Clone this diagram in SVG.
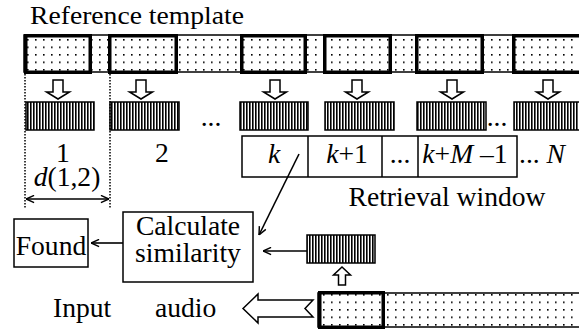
<svg xmlns="http://www.w3.org/2000/svg" width="579" height="335" viewBox="0 0 579 335">
  <style>
    text { font-family: "Liberation Serif", "Times New Roman", serif; font-size: 27.6px; fill: #000; }
    .title { font-size: 26px; }
    .it { font-style: italic; }
    .mid { text-anchor: middle; }
    .thin { fill: none; stroke: #000; stroke-width: 1.5; }
    .thick { fill: none; stroke: #000; stroke-width: 3.5; }
    .strip { fill: url(#dots); stroke: #000; stroke-width: 1.5; }
    .bar { fill: url(#stripes); stroke: #000; stroke-width: 1.5; }
    .box { fill: #fff; stroke: #000; stroke-width: 1.5; }
    .hollow { fill: #fff; stroke: #000; stroke-width: 1.5; stroke-linejoin: miter; }
    .line { fill: none; stroke: #000; stroke-width: 1.6; }
    .dotted { fill: none; stroke: #000; stroke-width: 1.5; stroke-dasharray: 1.5 1.5; }
  </style>
  <defs>
    <pattern id="dots" width="8" height="7.5" patternUnits="userSpaceOnUse" x="27" y="39">
      <rect width="8" height="7.5" fill="#fff"/>
      <rect x="0" y="0" width="1.6" height="1.6" fill="#000"/>
    </pattern>
    <pattern id="stripes" width="3" height="10" patternUnits="userSpaceOnUse" x="27">
      <rect width="3" height="10" fill="#fff"/>
      <rect width="1.6" height="10" fill="#000"/>
    </pattern>
    <marker id="head" viewBox="0 0 10 10" refX="10" refY="5" markerWidth="9" markerHeight="9" markerUnits="userSpaceOnUse" orient="auto-start-reverse">
      <path d="M1,1 L10,5 L1,9" fill="none" stroke="#000" stroke-width="1.6"/>
    </marker>
  </defs>

  <!-- reference template strip -->
  <g id="template">
    <text class="title" x="30" y="23.5" textLength="214" lengthAdjust="spacingAndGlyphs">Reference template</text>
    <rect class="strip" x="24" y="35" width="600" height="37"/>
    <rect class="thick" x="25.75" y="35.75" width="64.5" height="36.5"/>
    <rect class="thick" x="109.75" y="35.75" width="66.5" height="36.5"/>
    <rect class="thick" x="241.75" y="35.75" width="63.5" height="36.5"/>
    <rect class="thick" x="324.75" y="35.75" width="65.5" height="36.5"/>
    <rect class="thick" x="416.75" y="35.75" width="65.5" height="36.5"/>
    <rect class="thick" x="513.75" y="35.75" width="90" height="36.5"/>
  </g>

  <!-- feature vectors extracted from each template segment -->
  <g id="features">
    <rect class="bar" x="26" y="102" width="68" height="28"/>
    <rect class="bar" x="110" y="102" width="69" height="28"/>
    <rect class="bar" x="240" y="102" width="68" height="28"/>
    <rect class="bar" x="325" y="102" width="69" height="28"/>
    <rect class="bar" x="417" y="102" width="69" height="28"/>
    <rect class="bar" x="514" y="102" width="90" height="28"/>
    <text x="211" y="126" class="mid">...</text>
    <text x="497" y="126" class="mid">...</text>
    <text x="63" y="162" class="mid">1</text>
    <text x="162" y="162" class="mid">2</text>
    <text x="67" y="186" class="mid"><tspan class="it">d</tspan>(1,2)</text>
  </g>

  <!-- retrieval window -->
  <g id="window">
    <rect class="thin" x="242" y="136" width="275" height="41"/>
    <line class="thin" x1="308" y1="136" x2="308" y2="177"/>
    <line class="thin" x1="382" y1="136" x2="382" y2="177"/>
    <line class="thin" x1="418" y1="136" x2="418" y2="177"/>
    <text x="274" y="163" class="mid it">k</text>
    <text x="347" y="163" class="mid"><tspan class="it">k</tspan>+1</text>
    <text x="400" y="163" class="mid">...</text>
    <text x="465" y="163" class="mid"><tspan class="it">k</tspan>+<tspan class="it">M</tspan> –1</text>
    <text x="519" y="163">... <tspan class="it">N</tspan></text>
    <text x="447" y="206" class="mid">Retrieval window</text>
  </g>

  <g id="calc">
    <rect class="box" x="123" y="212" width="130" height="70"/>
    <text x="188" y="235" class="mid">Calculate</text>
    <text x="188" y="262" class="mid">similarity</text>
  </g>

  <g id="found">
    <rect class="box" x="14" y="219" width="74" height="48"/>
    <text x="51" y="255" class="mid">Found</text>
  </g>

  <!-- input audio stream -->
  <g id="input">
    <text x="53" y="317">Input</text>
    <text x="155" y="317">audio</text>
    <rect class="strip" x="318" y="293" width="300" height="34"/>
    <rect class="thick" x="319.75" y="292.75" width="63.5" height="34.5"/>
    <rect class="bar" x="307" y="235" width="68" height="28"/>
  </g>

  <g id="connectors">
    <!-- segment boundaries and spacing -->
    <line class="dotted" x1="25" y1="74" x2="25" y2="208"/>
    <line class="dotted" x1="110" y1="74" x2="110" y2="208"/>
    <line class="line" x1="26" y1="199" x2="109" y2="199" marker-start="url(#head)" marker-end="url(#head)"/>

    <!-- extraction arrows -->
    <path class="hollow" d="M53,80 h10 v12 h6.5 l-11.5,7 l-11.5,-7 h6.5 z"/>
    <path class="hollow" d="M136,80 h10 v12 h6.5 l-11.5,7 l-11.5,-7 h6.5 z"/>
    <path class="hollow" d="M270,80 h10 v12 h6.5 l-11.5,7 l-11.5,-7 h6.5 z"/>
    <path class="hollow" d="M352,80 h10 v12 h6.5 l-11.5,7 l-11.5,-7 h6.5 z"/>
    <path class="hollow" d="M447,80 h10 v12 h6.5 l-11.5,7 l-11.5,-7 h6.5 z"/>
    <path class="hollow" d="M543,80 h10 v12 h6.5 l-11.5,7 l-11.5,-7 h6.5 z"/>
    <path class="hollow" d="M338.5,285 v-10 h-5 l8.5,-8 l8.5,8 h-5 v10 z"/>
    <path class="hollow" d="M243,308.5 L258,294 V300 H313 L305,308.5 L313,317 H258 V323 Z"/>

    <!-- data flow -->
    <line class="line" x1="299" y1="154" x2="259" y2="235" marker-end="url(#head)"/>
    <line class="line" x1="307" y1="251" x2="263" y2="251" marker-end="url(#head)"/>
    <line class="line" x1="123" y1="243" x2="91" y2="243" marker-end="url(#head)"/>
  </g>
</svg>
